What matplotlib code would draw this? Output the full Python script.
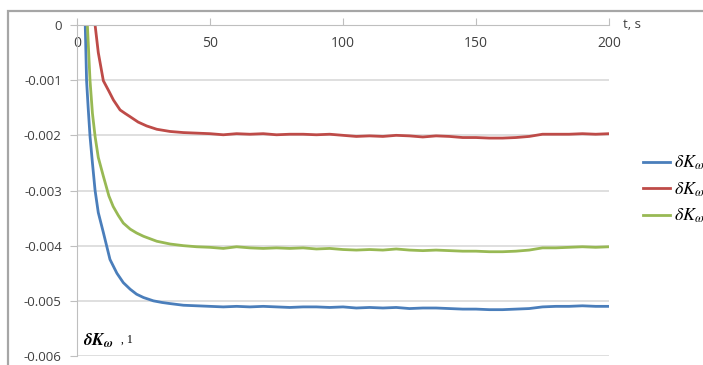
import matplotlib
matplotlib.use("Agg")
import matplotlib.pyplot as plt
from matplotlib.patches import Rectangle

plt.rcParams['mathtext.fontset'] = 'stix'
plt.rcParams['font.family'] = ['Open Sans', 'DejaVu Sans']

# temps (s) et valeurs
t_plateau = [45, 50, 55, 60, 65, 70, 75, 80, 85, 90, 95, 100, 105, 110, 115, 120,
             125, 130, 135, 140, 145, 150, 155, 160, 165, 170, 175, 180, 185, 190, 195, 200]

t_bleu = [2.5, 3.1, 3.6, 4.2, 4.9, 5.8, 6.8, 8, 9.9, 12.4, 15, 17.4, 20, 22.4, 25,
          28.7, 32, 35, 40] + t_plateau
k_bleu = [0.0003, 0.0, -0.00101, -0.0015, -0.00202, -0.0025, -0.0030, -0.0034, -0.00376,
          -0.00425, -0.0045, -0.00467, -0.00479, -0.00488, -0.00494, -0.0050, -0.00503,
          -0.00505, -0.00508,
          -0.00509, -0.00510, -0.00511, -0.00510, -0.00511, -0.00510, -0.00511, -0.00512,
          -0.00511, -0.00511, -0.00512, -0.00511, -0.00513, -0.00512, -0.00513, -0.00512,
          -0.00514, -0.00513, -0.00513, -0.00514, -0.00515, -0.00515, -0.00516, -0.00516,
          -0.00515, -0.00514, -0.00511, -0.00510, -0.00510, -0.00509, -0.00510, -0.00510]

t_rouge = [6.2, 6.8, 8, 9.9, 12, 13.7, 16.2, 18, 19.9, 23, 26.2, 30, 35, 40] + t_plateau
k_rouge = [0.0002, 0.0, -0.0005, -0.00101, -0.0012, -0.00136, -0.00154, -0.0016, -0.00166,
           -0.00176, -0.00183, -0.00189, -0.00193, -0.00195,
           -0.00196, -0.00197, -0.00199, -0.00197, -0.00198, -0.00197, -0.00199, -0.00198,
           -0.00198, -0.00199, -0.00198, -0.00200, -0.00202, -0.00201, -0.00202, -0.00200,
           -0.00201, -0.00203, -0.00201, -0.00202, -0.00204, -0.00204, -0.00205, -0.00205,
           -0.00204, -0.00202, -0.00198, -0.00198, -0.00198, -0.00197, -0.00198, -0.00197]

t_vert = [3.5, 3.9, 4.9, 5.8, 6.8, 8, 9.9, 12, 13.6, 15.5, 17.4, 20, 22.4, 25, 30, 35,
          40] + t_plateau
k_vert = [0.0002, 0.0, -0.00101, -0.0016, -0.00202, -0.0024, -0.00274, -0.0031, -0.00329,
          -0.00345, -0.00359, -0.0037, -0.00377, -0.00383, -0.00392, -0.00397, -0.0040,
          -0.00402, -0.00403, -0.00405, -0.00402, -0.00404, -0.00405, -0.00404, -0.00405,
          -0.00404, -0.00406, -0.00405, -0.00407, -0.00408, -0.00407, -0.00408, -0.00406,
          -0.00408, -0.00409, -0.00408, -0.00409, -0.00410, -0.00410, -0.00411, -0.00411,
          -0.00410, -0.00408, -0.00404, -0.00404, -0.00403, -0.00402, -0.00403, -0.00402]

x_ticks = [0, 50, 100, 150, 200]
y_ticks = [0, -0.001, -0.002, -0.003, -0.004, -0.005, -0.006]
y_labels = ["0", "-0.001", "-0.002", "-0.003", "-0.004", "-0.005", "-0.006"]
noms = [r'$\delta K_{\omega 1}$', r'$\delta K_{\omega 2}$', r'$\delta K_{\omega 3}$']

W, H = 703, 365
fig = plt.figure(figsize=(W / 100, H / 100), dpi=100)

# cadre gris autour du graphique
fig.patches.append(Rectangle((8 / W, -0.2), 1.2, 1.2 - 11 / H, transform=fig.transFigure,
                             fill=False, edgecolor='#a6a6a6', linewidth=1.6))

ax = fig.add_axes([77 / W, 1 - 356 / H, (609 - 77) / W, (356 - 25) / H])

ax.plot(t_bleu, k_bleu, color='#4a7ebb', lw=2.0, label=noms[0])
ax.plot(t_rouge, k_rouge, color='#be4b48', lw=2.0, label=noms[1])
ax.plot(t_vert, k_vert, color='#98b954', lw=2.0, label=noms[2])

ax.set_xlim(0, 200)
ax.set_ylim(-0.006, 0)

# axe des x place en y=0 (en haut)
for s in ['top', 'right']:
    ax.spines[s].set_visible(False)
ax.spines['bottom'].set_position(('data', 0))
ax.spines['bottom'].set_color('#bfbfbf')
ax.spines['left'].set_color('#bfbfbf')
ax.set_xticks(x_ticks)
ax.set_yticks(y_ticks)
ax.set_yticklabels(y_labels)
ax.tick_params(axis='x', direction='in', length=5, color='#bfbfbf', pad=8,
               labelsize=10, labelcolor='#404040')
ax.tick_params(axis='y', direction='out', length=5, color='#bfbfbf', pad=6,
               labelsize=9.5, labelcolor='#404040')
ax.grid(axis='y', color='#d9d9d9', lw=1.2)
ax.set_axisbelow(True)

fig.text(623 / W, 1 - 25 / H, 't, s', fontsize=9.5, color='#404040', va='center')
fig.text(83 / W, 1 - 341 / H, r'$\mathbfit{\delta K}_{\mathbfit{\omega}}$', fontsize=12.5,
         va='center')
fig.text(121 / W, 1 - 340 / H, ', 1', fontsize=8.5, family='Liberation Serif', va='center')

ax.legend(loc='upper left', bbox_to_anchor=(643 / W, 1 - 154 / H),
          bbox_transform=fig.transFigure, frameon=False, fontsize=13,
          handlelength=1.5, handletextpad=0.2, labelspacing=0.45,
          borderpad=0, borderaxespad=0)

fig.savefig('out.png', dpi=100)
